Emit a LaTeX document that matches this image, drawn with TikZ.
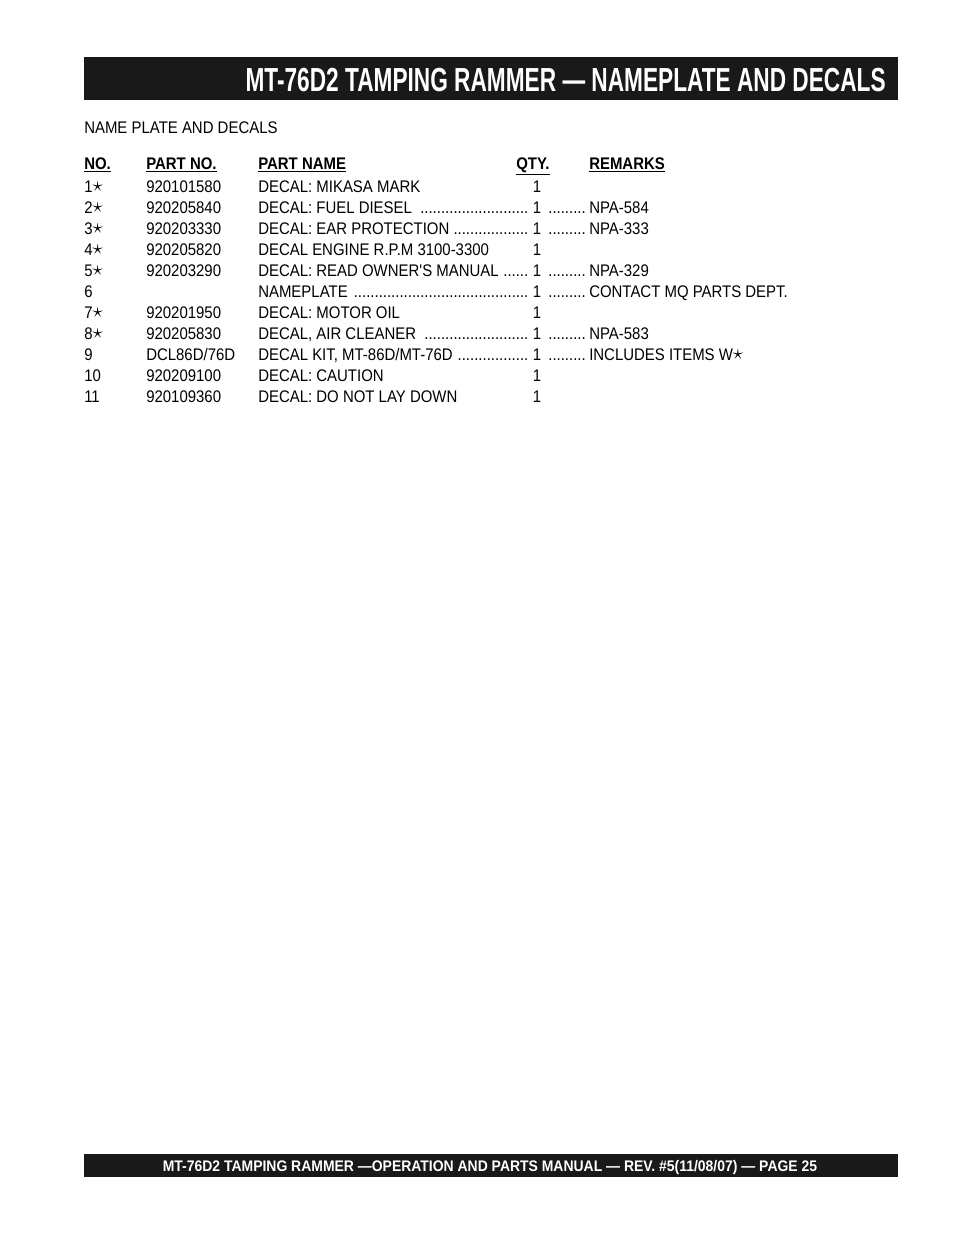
\documentclass[tikz,border=0pt]{standalone}
\usepackage{fontspec}
\setmainfont{Liberation Sans}
\newfontfamily\condfont[FakeStretch=0.89]{Liberation Sans}
\newfontfamily\titlefont[FakeStretch=0.68]{Liberation Sans}
\newfontfamily\footfont[FakeStretch=0.91]{Liberation Sans}
\usetikzlibrary{calc}
\newcommand{\dotlead}{\leaders\hbox{.}\hfill}
\newcommand{\stm}{\raisebox{0.3pt}{\scalebox{1.3}{$\star$}}}
\tikzstyle{bar} = [fill=black!90,draw=none]
\tikzstyle{cell} = [anchor=base west,inner sep=0pt,font=\condfont\fontsize{12.6}{14}\selectfont]
\tikzstyle{head} = [cell,font=\condfont\bfseries\fontsize{12.6}{14}\selectfont]
\tikzstyle{qty} = [anchor=base,inner sep=0pt,font=\condfont\fontsize{12.6}{14}\selectfont]

\begin{document}
\begin{tikzpicture}[x=0.75pt,y=-0.75pt]
    \useasboundingbox (0,0) rectangle (954,1235);
    % Title bar
    \path[bar] (84,57) rectangle (898,100);
    \node[anchor=base east,inner sep=0pt,text=white,font=\titlefont\bfseries\fontsize{25}{28}\selectfont] (title) at (886,91) {MT-76D2 TAMPING RAMMER — NAMEPLATE AND DECALS};

    \node[cell] (section) at (84,133) {NAME PLATE AND DECALS};

    % Column heads
    \foreach \x/\name/\txt in {84/hno/NO., 146/hpart/PART NO., 258/hname/PART NAME, 516/hqty/QTY., 589/hrem/REMARKS}
        \node[head] (\name) at (\x,169) {\underline{\txt}};

    % Rows: number, part number, part name, leader dots, remarks
    \foreach \row/\no/\part/\pname/\lead/\rem in {
        1/1\stm/920101580/{DECAL: MIKASA MARK}/0/{},
        2/2\stm/920205840/{DECAL: FUEL DIESEL}/1/{NPA-584},
        3/3\stm/920203330/{DECAL: EAR PROTECTION}/1/{NPA-333},
        4/4\stm/920205820/{DECAL ENGINE R.P.M 3100-3300}/0/{},
        5/5\stm/920203290/{DECAL: READ OWNER'S MANUAL}/1/{NPA-329},
        6/6/{}/{NAMEPLATE}/1/{CONTACT MQ PARTS DEPT.},
        7/7\stm/920201950/{DECAL: MOTOR OIL}/0/{},
        8/8\stm/920205830/{DECAL, AIR CLEANER}/1/{NPA-583},
        9/9/{DCL86D/76D}/{DECAL KIT, MT-86D/MT-76D}/1/{INCLUDES ITEMS W\stm},
        10/10/920209100/{DECAL: CAUTION}/0/{},
        11/11/920109360/{DECAL: DO NOT LAY DOWN}/0/{}} {
        \pgfmathsetmacro{\yy}{171+21*\row}
        \node[cell] (no\row) at (84,\yy) {\no};
        \node[cell] (part\row) at (146,\yy) {\part};
        \ifnum\lead=1
            \node[cell] (name\row) at (258,\yy) {\makebox[204pt][l]{\pname\ \dotlead}};
            \node[cell,anchor=base east] (dots\row) at (586,\yy) {.........};
            \node[cell] (rem\row) at (589,\yy) {\rem};
        \else
            \node[cell] (name\row) at (258,\yy) {\pname};
        \fi
        \node[qty] (qty\row) at (537,\yy) {1};
    }

    % Footer bar
    \path[bar] (84,1154) rectangle (898,1177);
    \node[anchor=base,inner sep=0pt,text=white,font=\footfont\bfseries\fontsize{11.5}{13}\selectfont] (footer) at (490,1171) {MT-76D2 TAMPING RAMMER —OPERATION AND PARTS MANUAL — REV. \#5(11/08/07) — PAGE 25};
\end{tikzpicture}
\end{document}
